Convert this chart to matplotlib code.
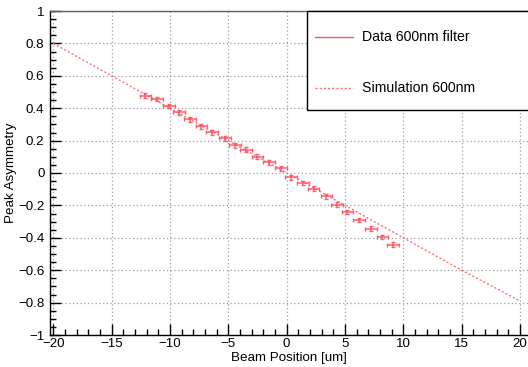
import matplotlib
matplotlib.use("Agg")
import matplotlib.pyplot as plt
from matplotlib.ticker import MultipleLocator, FuncFormatter
from matplotlib.patches import Rectangle
from matplotlib.lines import Line2D

plt.rcParams['font.family'] = ['Liberation Sans', 'DejaVu Sans']

# data
beam_pos = [-12.1, -11.1, -10.1, -9.2, -8.3, -7.3, -6.4, -5.3, -4.4, -3.5, -2.5, -1.5,
            -0.5, 0.4, 1.4, 2.3, 3.4, 4.3, 5.2, 6.2, 7.2, 8.2, 9.1]
asym = [0.478, 0.457, 0.414, 0.375, 0.332, 0.289, 0.252, 0.215, 0.172, 0.143, 0.100, 0.065,
        0.028, -0.026, -0.062, -0.098, -0.144, -0.195, -0.241, -0.290, -0.343, -0.395, -0.444]
pos_err = [0.5] * len(beam_pos)
asym_err = [0.015] * len(beam_pos)

sim_pos = [-20, -15, -10, -5, 0, 5, 10, 15, 20]
sim_asym = [0.8, 0.6, 0.4, 0.2, 0.0, -0.2, -0.4, -0.6, -0.79]

data_color = '#ff4f5c'
sim_color = '#ff6f7a'

fig = plt.figure(figsize=(5.28, 3.67), dpi=100)
ax = fig.add_axes([50 / 528, 32 / 367, 478 / 528, 324 / 367])

# grid
ax.grid(True, which='major', linestyle=(0, (1, 2)), color='#a0a0a0', linewidth=0.9)
ax.set_axisbelow(True)

# simulation
ax.plot(sim_pos, sim_asym, linestyle=(0, (1.5, 1.5)), color=sim_color, linewidth=1.0, zorder=3)

# data
ax.errorbar(beam_pos, asym, xerr=pos_err, yerr=asym_err, fmt='none', ecolor=data_color,
            elinewidth=1.1, capsize=1.5, capthick=1.0, alpha=0.9, zorder=4)

ax.set_xlim(-20.28, 20.68)
ax.set_ylim(-1.0, 1.0)

ax.xaxis.set_major_locator(MultipleLocator(5))
ax.xaxis.set_minor_locator(MultipleLocator(1))
ax.yaxis.set_major_locator(MultipleLocator(0.2))
ax.yaxis.set_minor_locator(MultipleLocator(0.05))
fmt = FuncFormatter(lambda v, p: ('%g' % round(v, 3)).replace('-', '\u2212'))
ax.xaxis.set_major_formatter(fmt)
ax.yaxis.set_major_formatter(fmt)

ax.tick_params(which='both', direction='in', top=False, right=False, labelsize=9.6,
               color='black', width=1.0)
ax.tick_params(which='major', length=8)
ax.tick_params(axis='x', which='major', pad=2)
ax.tick_params(axis='y', which='major', pad=4)
ax.tick_params(which='minor', length=4)

for side in ['left', 'bottom', 'top']:
    ax.spines[side].set_linewidth(1.0)
ax.spines['right'].set_visible(False)
ax.spines['top'].set_color('#606060')

ax.set_xlabel('Beam Position [um]', fontsize=9.6)
ax.set_ylabel('Peak Asymmetry', fontsize=9.6)
ax.xaxis.label.set_va('center')
ax.yaxis.label.set_va('center')
ax.xaxis.set_label_coords(0.5, (335 - 358) / 324)
ax.yaxis.set_label_coords((11 - 50) / 478, 0.5)

# legend box (ROOT style)
def px2ax(xp, yp):
    return ((xp - 50) / 478, (335 - yp) / 324)

x0, y0 = px2ax(306.5, 110)
x1, y1 = px2ax(529, 11)
ax.add_patch(Rectangle((x0, y0), x1 - x0, y1 - y0, transform=ax.transAxes,
                       facecolor='white', edgecolor='black', linewidth=1.0,
                       clip_on=False, zorder=10))
entries = [("Data 600nm filter", '-', data_color, 37),
           ("Simulation 600nm", (0, (1.5, 1.5)), sim_color, 88)]
for label, ls, col, yp in entries:
    la, ya = px2ax(315, yp)
    lb, _ = px2ax(353, yp)
    ax.add_line(Line2D([la, lb], [ya, ya], transform=ax.transAxes, linestyle=ls,
                       color=col, linewidth=1.0, clip_on=False, zorder=11))
    tx, _ = px2ax(362.5, yp)
    ax.text(tx, ya, label, transform=ax.transAxes, fontsize=10.2, va='center',
            ha='left', zorder=12, clip_on=False)

fig.savefig('out.png', dpi=100)
